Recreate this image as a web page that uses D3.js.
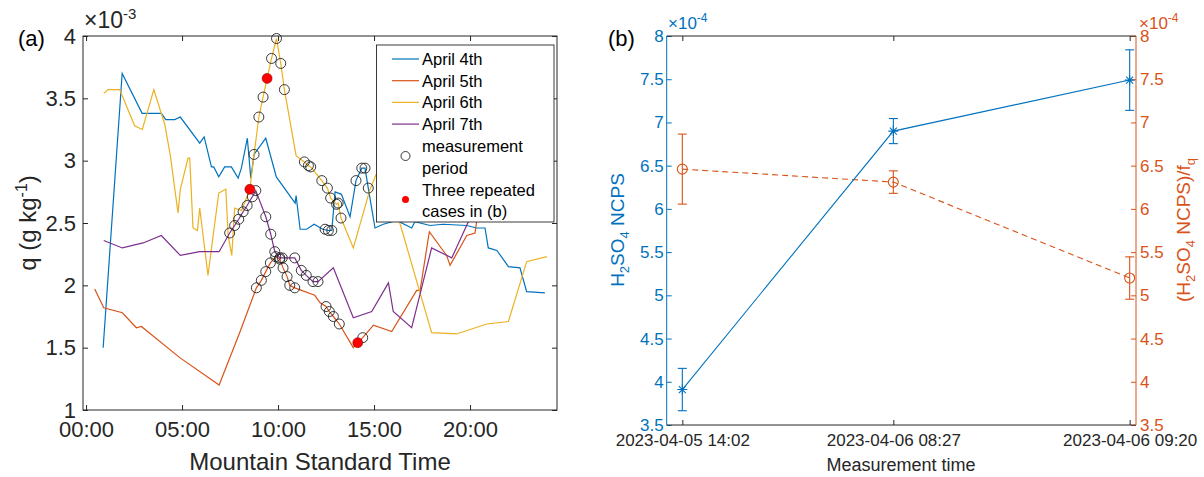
<!DOCTYPE html>
<html lang="en">
<head>
<meta charset="UTF-8">
<title>q and H2SO4 NCPS</title>
<style>
  body { margin: 0; background: #fff; }
  svg { display: block; font-family: "Liberation Sans", Arial, sans-serif; }
</style>
</head>
<body></body>
<script src="https://cdn.jsdelivr.net/npm/d3@7"></script>
<script>
// ---- panel (a): hour of day (MST), q in 1e-3 g/kg ----
const april4 = [[0.89,1.50],[1.88,3.70],[2.92,3.38],[3.92,3.38],[4.15,3.33],[4.62,3.33],[4.91,3.35],[5.92,3.14],[6.15,3.19],[6.53,2.95],[6.65,2.95],[6.91,2.87],[7.22,2.95],[7.57,2.95],[7.92,2.86],[8.09,2.94],[8.40,3.18],[8.58,2.86],[8.75,3.05],[9.36,3.18],[9.91,2.87],[10.89,2.66],[10.94,2.72],[11.15,2.45],[11.49,2.45],[11.88,2.49],[12.33,2.45],[12.62,2.44],[12.80,2.44],[12.97,2.75],[13.30,2.73],[13.75,2.55],[14.06,2.84],[14.36,2.94],[14.53,2.94],[14.70,2.78],[15.05,2.46],[15.48,2.49],[16.18,2.52],[16.96,2.46],[17.13,2.51],[17.92,2.48],[18.6,2.49],[19.83,2.48],[20.35,2.46],[20.78,2.46],[20.95,2.30],[21.4,2.28],[22.0,2.15],[22.6,2.14],[22.95,1.95],[23.9,1.94]];
const april5 = [[0.45,1.97],[0.92,1.82],[1.89,1.78],[2.62,1.66],[2.88,1.67],[4.88,1.42],[6.93,1.20],[8.0,1.62],[8.87,1.98],[9.13,2.04],[9.36,2.11],[9.60,2.18],[9.88,2.23],[10.09,2.21],[10.26,2.14],[10.47,2.07],[10.61,2.00],[10.87,1.98],[11.91,1.92],[12.19,1.86],[12.5,1.83],[12.67,1.79],[12.88,1.75],[13.19,1.69],[13.92,1.50],[14.15,1.54],[14.41,1.58],[14.97,1.68],[15.92,1.63],[17.22,1.96],[17.4,1.96],[17.88,2.43],[18.78,2.24],[18.96,2.16],[19.83,2.40],[20.26,2.42],[20.35,2.52]];
const april6 = [[0.92,3.54],[1.15,3.57],[1.75,3.57],[2.53,3.28],[2.93,3.25],[3.53,3.57],[4.10,3.29],[4.39,3.04],[4.79,2.58],[4.91,2.77],[5.31,3.02],[5.40,3.02],[5.57,2.46],[5.80,2.44],[5.92,2.62],[6.35,2.08],[6.91,2.74],[7.28,2.77],[7.40,2.40],[7.59,2.24],[7.74,2.62],[8.10,2.60],[8.53,2.77],[8.75,3.05],[9.0,3.35],[9.22,3.51],[9.43,3.66],[9.66,3.82],[9.92,3.98],[10.14,3.78],[10.33,3.57],[10.94,3.04],[11.37,2.99],[11.58,2.96],[11.70,2.95],[12.28,2.84],[12.57,2.78],[12.74,2.70],[13.05,2.65],[13.13,2.66],[13.28,2.54],[13.92,2.30],[14.79,2.77],[15.4,3.0],[18.0,1.62],[19.3,1.61],[20.87,1.69],[22.0,1.71],[22.95,2.19],[24.0,2.23]];
const april7 = [[0.92,2.36],[1.89,2.30],[2.97,2.34],[3.92,2.40],[4.91,2.24],[5.92,2.27],[6.93,2.27],[7.48,2.42],[7.74,2.48],[7.95,2.53],[8.18,2.59],[8.39,2.64],[8.66,2.71],[8.84,2.76],[9.36,2.55],[9.62,2.41],[9.83,2.27],[10.09,2.22],[10.22,2.22],[10.87,2.22],[11.21,2.12],[11.47,2.08],[11.82,2.03],[12.08,2.03],[12.88,2.14],[13.92,1.74],[14.88,1.79],[15.75,2.02],[16.0,1.79],[16.96,1.66],[18.0,2.30],[19.05,2.22],[20.0,2.54],[20.3,2.72]];
const measPeriod = [[7.48,2.42],[7.74,2.48],[7.95,2.53],[8.18,2.59],[8.39,2.64],[8.66,2.71],[8.84,2.76],[8.75,3.05],[9.0,3.35],[9.22,3.51],[9.66,3.82],[9.92,3.98],[10.14,3.78],[10.33,3.57],[11.37,2.99],[11.58,2.96],[11.70,2.95],[12.28,2.84],[12.57,2.78],[12.74,2.70],[13.05,2.65],[13.13,2.66],[13.28,2.54],[12.45,2.45],[12.62,2.44],[12.80,2.44],[14.06,2.84],[14.36,2.94],[14.53,2.94],[14.70,2.78],[9.36,2.55],[9.62,2.41],[9.83,2.27],[10.09,2.22],[10.22,2.22],[10.87,2.22],[11.21,2.12],[11.47,2.08],[11.82,2.03],[12.08,2.03],[8.87,1.98],[9.13,2.04],[9.36,2.11],[9.60,2.18],[9.88,2.23],[10.09,2.21],[10.26,2.14],[10.47,2.07],[10.61,2.00],[10.87,1.98],[12.5,1.83],[12.67,1.79],[12.88,1.75],[13.19,1.69],[14.41,1.58]];
const repeatedCases = [[8.53,2.77],[9.43,3.66],[14.15,1.54]];
const hourTicks = [0, 5, 10, 15, 20];
const hourLabels = ["00:00", "05:00", "10:00", "15:00", "20:00"];
const qTicks = [1, 1.5, 2, 2.5, 3, 3.5, 4];
const dayNames = ["April 4th", "April 5th", "April 6th", "April 7th"];
const dayColors = ["#0072BD", "#D95319", "#EDB120", "#7E2F8E"];

// ---- panel (b): three measurements, values in 1e-4 ----
const measTimes = ["2023-04-05 14:02", "2023-04-06 08:27", "2023-04-06 09:20"];
const measPos = [1, 2, 3.12];
const ncps = [3.91, 6.90, 7.49];
const ncpsErr = [0.245, 0.145, 0.35];
const ncpsFq = [6.46, 6.31, 5.20];
const ncpsFqErr = [0.405, 0.13, 0.245];
const bTicks = [3.5, 4, 4.5, 5, 5.5, 6, 6.5, 7, 7.5, 8];

const ink = "#262626";
const blue = "#0072BD";
const orange = "#D95319";

let svg = d3.select("body").append("svg")
    .attr("width", 1204)
    .attr("height", 477);

// ================= panel (a) =================
const xA = d3.scaleLinear().domain([-0.16, 24.53]).range([83, 557]);
const yA = d3.scaleLinear().domain([1, 4]).range([410, 36]);

function styleAxis(g, color, size) {
    g.select(".domain").remove();
    g.selectAll(".tick line").attr("stroke", color);
    g.selectAll(".tick text").attr("fill", color).style("font-size", size + "px");
}

svg.append("g").attr("transform", "translate(0,410)")
    .call(d3.axisBottom(xA).tickValues(hourTicks).tickFormat((d, i) => hourLabels[i]).tickSize(-5).tickPadding(11))
    .call(g => styleAxis(g, ink, 22));
svg.append("g").attr("transform", "translate(0,36)")
    .call(d3.axisTop(xA).tickValues(hourTicks).tickFormat("").tickSize(-5))
    .call(g => styleAxis(g, ink, 22));
svg.append("g").attr("transform", "translate(83,0)")
    .call(d3.axisLeft(yA).tickValues(qTicks).tickFormat(d3.format("~g")).tickSize(-5).tickPadding(7))
    .call(g => styleAxis(g, ink, 22));
svg.append("g").attr("transform", "translate(557,0)")
    .call(d3.axisRight(yA).tickValues(qTicks).tickFormat("").tickSize(-5))
    .call(g => styleAxis(g, ink, 22));

svg.append("rect")
    .attr("x", 83).attr("y", 36).attr("width", 557 - 83).attr("height", 410 - 36)
    .attr("fill", "none").attr("stroke", ink).attr("stroke-width", 1);

const lineA = d3.line().x(d => xA(d[0])).y(d => yA(d[1]));
[april4, april5, april6, april7].forEach((s, i) => {
    svg.append("path").datum(s)
        .attr("d", lineA)
        .attr("fill", "none")
        .attr("stroke", dayColors[i])
        .attr("stroke-width", 1.2);
});

svg.append("g").selectAll("circle")
    .data(measPeriod).enter()
    .append("circle")
    .attr("cx", d => xA(d[0]))
    .attr("cy", d => yA(d[1]))
    .attr("r", 5)
    .attr("fill", "none")
    .attr("stroke", "#222")
    .attr("stroke-width", 0.9);

svg.append("g").selectAll("circle")
    .data(repeatedCases).enter()
    .append("circle")
    .attr("cx", d => xA(d[0]))
    .attr("cy", d => yA(d[1]))
    .attr("r", 5)
    .attr("fill", "#ff0000")
    .attr("stroke", "#700")
    .attr("stroke-width", 0.5);

// legend
const leg = svg.append("g");
leg.append("rect")
    .attr("x", 376.5).attr("y", 45).attr("width", 177.5).attr("height", 177)
    .attr("fill", "#fff").attr("stroke", ink).attr("stroke-width", 0.9);
dayNames.forEach((name, i) => {
    const cy = 59 + i * 21.7;
    leg.append("line").attr("x1", 392).attr("x2", 419).attr("y1", cy).attr("y2", cy)
        .attr("stroke", dayColors[i]).attr("stroke-width", 1.2);
    leg.append("text").attr("x", 422).attr("y", cy + 6)
        .style("font-size", "16.5px").attr("fill", "#000").text(name);
});
leg.append("circle").attr("cx", 405.5).attr("cy", 156).attr("r", 4.5)
    .attr("fill", "none").attr("stroke", "#222").attr("stroke-width", 0.9);
leg.append("text").attr("x", 422).attr("y", 152).style("font-size", "16.5px").text("measurement");
leg.append("text").attr("x", 422).attr("y", 173.5).style("font-size", "16.5px").text("period");
leg.append("circle").attr("cx", 405.5).attr("cy", 199.5).attr("r", 3.5).attr("fill", "#ff0000");
leg.append("text").attr("x", 422).attr("y", 196).style("font-size", "16.5px").text("Three repeated");
leg.append("text").attr("x", 422).attr("y", 217).style("font-size", "16.5px").text("cases in (b)");

// labels
svg.append("text").attr("x", 18).attr("y", 46).style("font-size", "22px").attr("fill", "#000").text("(a)");
const expA = svg.append("text").attr("x", 84).attr("y", 28).style("font-size", "23px").attr("fill", ink);
expA.append("tspan").text("\u00d710");
expA.append("tspan").attr("dy", -9).style("font-size", "15px").text("-3");

svg.append("text").attr("x", 320).attr("y", 470).attr("text-anchor", "middle")
    .style("font-size", "24px").attr("fill", ink).text("Mountain Standard Time");
const qLab = svg.append("text").attr("transform", "translate(36,223) rotate(-90)")
    .attr("text-anchor", "middle").style("font-size", "24px").attr("fill", ink);
qLab.append("tspan").text("q (g kg");
qLab.append("tspan").attr("dy", -9).style("font-size", "16px").text("-1");
qLab.append("tspan").attr("dy", 9).text(")");

// ================= panel (b) =================
const xB = d3.scaleLinear().domain([0.926, 3.15]).range([666.7, 1136]);
const yB = d3.scaleLinear().domain([3.5, 8]).range([425, 36]);

svg.append("g").attr("transform", "translate(0,425)")
    .call(d3.axisBottom(xB).tickValues(measPos).tickFormat((d, i) => measTimes[i]).tickSize(-5).tickPadding(9))
    .call(g => styleAxis(g, ink, 17));
svg.append("g").attr("transform", "translate(0,36)")
    .call(d3.axisTop(xB).tickValues(measPos).tickFormat("").tickSize(-5))
    .call(g => styleAxis(g, ink, 17));
svg.append("g").attr("transform", "translate(666.7,0)")
    .call(d3.axisLeft(yB).tickValues(bTicks).tickFormat(d3.format("~g")).tickSize(-5).tickPadding(3))
    .call(g => styleAxis(g, blue, 17));
svg.append("g").attr("transform", "translate(1136,0)")
    .call(d3.axisRight(yB).tickValues(bTicks).tickFormat(d3.format("~g")).tickSize(-5).tickPadding(4))
    .call(g => styleAxis(g, orange, 17));

svg.append("line").attr("x1", 666.7).attr("x2", 1136).attr("y1", 36).attr("y2", 36).attr("stroke", ink);
svg.append("line").attr("x1", 666.7).attr("x2", 1136).attr("y1", 425).attr("y2", 425).attr("stroke", ink);
svg.append("line").attr("x1", 666.7).attr("x2", 666.7).attr("y1", 36).attr("y2", 425).attr("stroke", blue);
svg.append("line").attr("x1", 1136).attr("x2", 1136).attr("y1", 36).attr("y2", 425).attr("stroke", orange);

const ncpsPts = measPos.map((p, i) => ({x: p, v: ncps[i], e: ncpsErr[i]}));
const fqPts = measPos.map((p, i) => ({x: p, v: ncpsFq[i], e: ncpsFqErr[i]}));
const lineB = d3.line().x(d => xB(d.x)).y(d => yB(d.v));

function errorBars(pts, color) {
    const g = svg.append("g").attr("stroke", color).attr("stroke-width", 1.1).attr("fill", "none");
    pts.forEach(d => {
        const x = xB(d.x), y0 = yB(d.v - d.e), y1 = yB(d.v + d.e);
        g.append("line").attr("x1", x).attr("x2", x).attr("y1", y0).attr("y2", y1);
        g.append("line").attr("x1", x - 4.5).attr("x2", x + 4.5).attr("y1", y0).attr("y2", y0);
        g.append("line").attr("x1", x - 4.5).attr("x2", x + 4.5).attr("y1", y1).attr("y2", y1);
    });
    return g;
}

svg.append("path").datum(fqPts).attr("d", lineB)
    .attr("fill", "none").attr("stroke", orange).attr("stroke-width", 1.1)
    .attr("stroke-dasharray", "6,4");
const gFq = errorBars(fqPts, orange);
gFq.selectAll("circle.m").data(fqPts).enter().append("circle")
    .attr("cx", d => xB(d.x)).attr("cy", d => yB(d.v)).attr("r", 5);

svg.append("path").datum(ncpsPts).attr("d", lineB)
    .attr("fill", "none").attr("stroke", blue).attr("stroke-width", 1.1);
const gN = errorBars(ncpsPts, blue);
gN.selectAll("path.m").data(ncpsPts).enter().append("path")
    .attr("transform", d => `translate(${xB(d.x)},${yB(d.v)})`)
    .attr("d", "M-5,0L5,0M0,-5L0,5M-3.5,-3.5L3.5,3.5M-3.5,3.5L3.5,-3.5");

svg.append("text").attr("x", 608).attr("y", 46).style("font-size", "22px").attr("fill", "#000").text("(b)");
const expL = svg.append("text").attr("x", 668).attr("y", 29).style("font-size", "17px").attr("fill", blue);
expL.append("tspan").text("\u00d710");
expL.append("tspan").attr("dy", -7).style("font-size", "12px").text("-4");
const expR = svg.append("text").attr("x", 1139).attr("y", 29).style("font-size", "17px").attr("fill", orange);
expR.append("tspan").text("\u00d710");
expR.append("tspan").attr("dy", -7).style("font-size", "12px").text("-4");

svg.append("text").attr("x", 901).attr("y", 471).attr("text-anchor", "middle")
    .style("font-size", "18px").attr("fill", ink).text("Measurement time");

const lLab = svg.append("text").attr("transform", "translate(624,230) rotate(-90)")
    .attr("text-anchor", "middle").style("font-size", "19px").attr("fill", blue);
lLab.append("tspan").text("H");
lLab.append("tspan").attr("dy", 5).style("font-size", "13px").text("2");
lLab.append("tspan").attr("dy", -5).text("SO");
lLab.append("tspan").attr("dy", 5).style("font-size", "13px").text("4");
lLab.append("tspan").attr("dy", -5).text(" NCPS");

const rLab = svg.append("text").attr("transform", "translate(1190,230) rotate(-90)")
    .attr("text-anchor", "middle").style("font-size", "19px").attr("fill", orange);
rLab.append("tspan").text("(H");
rLab.append("tspan").attr("dy", 5).style("font-size", "13px").text("2");
rLab.append("tspan").attr("dy", -5).text("SO");
rLab.append("tspan").attr("dy", 5).style("font-size", "13px").text("4");
rLab.append("tspan").attr("dy", -5).text(" NCPS)/f");
rLab.append("tspan").attr("dy", 5).style("font-size", "13px").text("q");
</script>
</html>
